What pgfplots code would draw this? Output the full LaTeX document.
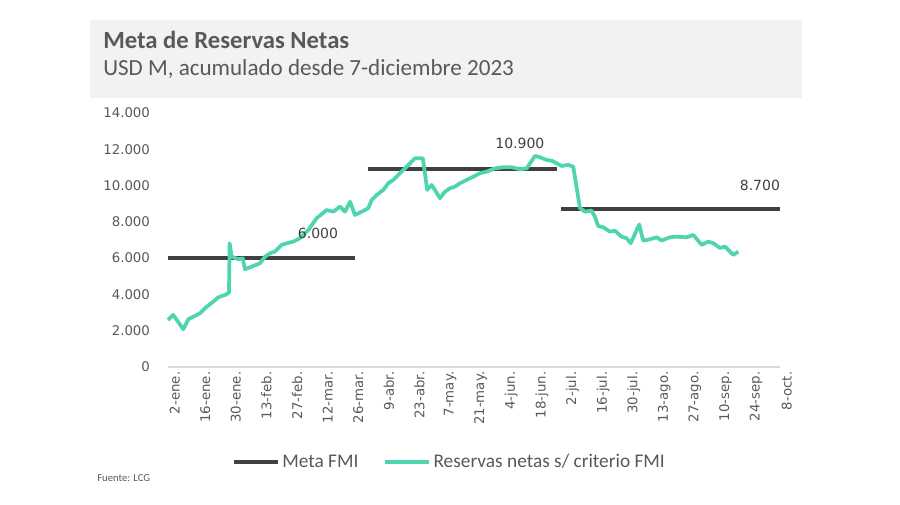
\documentclass[border=0pt]{standalone}
\usepackage{fontspec}
\setmainfont{Carlito}
\newfontfamily\numfont{DejaVu Sans}
\usepackage{pgfplots}
\pgfplotsset{compat=1.18}
\definecolor{metagray}{RGB}{64,64,64}
\definecolor{resgreen}{RGB}{78,213,176}
\definecolor{boxgray}{RGB}{242,242,242}
\definecolor{txtgray}{RGB}{89,89,89}
\definecolor{axgray}{RGB}{217,217,217}

% dias desde 2-ene, USD M
\pgfplotstableread{
d v
0 2590
2.4 2870
7.0 2080
9.3 2630
11.6 2770
14.6 2960
16.9 3240
20.7 3600
23.0 3840
26.1 3970
27.9 4100
28.2 6820
29.1 6080
32.2 5940
34.2 5990
35.2 5390
38.3 5530
42.1 5720
44.4 6080
46.7 6270
48.9 6360
52.0 6730
54.3 6820
57.3 6910
60.4 7100
64.2 7550
68.0 8200
72.6 8650
75.6 8560
78.7 8840
81.0 8560
83.3 9110
85.5 8380
88.6 8560
91.6 8750
93.2 9210
95.5 9480
98.5 9760
100.8 10130
103.1 10310
106.1 10680
109.2 11040
113.0 11500
116.6 11500
118.6 9760
120.6 10030
122.1 9760
124.4 9300
126.7 9660
129.0 9850
131.3 9940
133.6 10130
136.6 10310
139.7 10490
142.7 10680
145.8 10770
149.6 10950
153.4 11010
157.2 11010
161.0 10900
164.1 10950
167.9 11630
170.2 11560
173.2 11410
175.5 11370
177.8 11230
180.1 11080
183.1 11140
185.4 11040
188.5 8750
190.8 8560
193.8 8620
195.3 8290
196.8 7770
199.1 7700
202.2 7460
204.5 7510
207.5 7180
209.8 7100
211.7 6820
215.6 7860
217.4 6960
220.5 7040
223.6 7150
225.8 6970
229.6 7150
232.7 7180
237.3 7150
240.3 7280
244.2 6730
247.2 6910
249.5 6820
252.5 6560
254.8 6640
258.6 6180
260.9 6360
}\reservas

\begin{document}
\begin{tikzpicture}
\path[use as bounding box] (0,0) rectangle (675pt,378.75pt);
\fill[boxgray] (67.5pt,305.25pt) rectangle (601.5pt,363.75pt);
\node[anchor=base west, inner sep=0, text=txtgray, font=\fontsize{18.5}{22}\selectfont\bfseries]
  at (77.25pt,342pt) {Meta de Reservas Netas};
\node[anchor=base west, inner sep=0, text=txtgray, font=\fontsize{17.3}{20}\selectfont]
  at (77.25pt,321.75pt) {USD M, acumulado desde 7-diciembre 2023};
\node[anchor=west, inner sep=0, text=txtgray, font=\fontsize{8}{9.6}\selectfont]
  at (72.75pt,20.25pt) {Fuente: LCG};

\begin{axis}[
    at={(126pt,103.5pt)}, anchor=south west,
    scale only axis, width=459pt, height=190.5pt,
    xmin=0, xmax=280, ymin=0, ymax=14000,
    clip=false,
    scaled y ticks=false,
    axis x line*=bottom, axis y line*=left,
    x axis line style={draw=axgray, line width=1pt, -},
    y axis line style={draw=none},
    major tick length=0pt,
    ytick={0,2000,...,14000},
    yticklabels={0,2.000,4.000,6.000,8.000,10.000,12.000,14.000},
    xtick={0,14,...,280},
    xticklabels={2-ene.,16-ene.,30-ene.,13-feb.,27-feb.,12-mar.,26-mar.,9-abr.,23-abr.,7-may.,21-may.,4-jun.,18-jun.,2-jul.,16-jul.,30-jul.,13-ago.,27-ago.,10-sep.,24-sep.,8-oct.},
    yticklabel style={font=\numfont\fontsize{10}{12}\selectfont, text=txtgray, anchor=east, xshift=-10pt},
    xticklabel style={font=\numfont\fontsize{10}{12}\selectfont, text=txtgray, rotate=90, anchor=east, yshift=-5pt},
    legend style={at={(0.097,-0.374)}, anchor=west, draw=none, fill=none,
        font=\fontsize{14.5}{17}\selectfont, text=txtgray,
        /tikz/every even column/.append style={column sep=16.5pt}},
    legend columns=2,
    legend image code/.code={\draw[#1] (0pt,0pt) -- (33pt,0pt);},
]
\addplot[metagray, line width=3pt] coordinates {(0,6000) (85.5,6000)};
\addlegendentry{Meta FMI}
\addplot[metagray, line width=3pt, forget plot] coordinates {(91.5,10900) (178,10900)};
\addplot[metagray, line width=3pt, forget plot] coordinates {(180,8700) (280,8700)};
\addplot[resgreen, line width=2.8pt, line join=round] table[x=d, y=v] {\reservas};
\addlegendentry{Reservas netas s/ criterio FMI}

\node[font=\numfont\fontsize{10.5}{12}\selectfont, text=metagray] at (axis cs:68.6,7390) {6.000};
\node[font=\numfont\fontsize{10.5}{12}\selectfont, text=metagray] at (axis cs:161,12350) {10.900};
\node[font=\numfont\fontsize{10.5}{12}\selectfont, text=metagray] at (axis cs:270.8,10030) {8.700};
\end{axis}
\end{tikzpicture}
\end{document}
